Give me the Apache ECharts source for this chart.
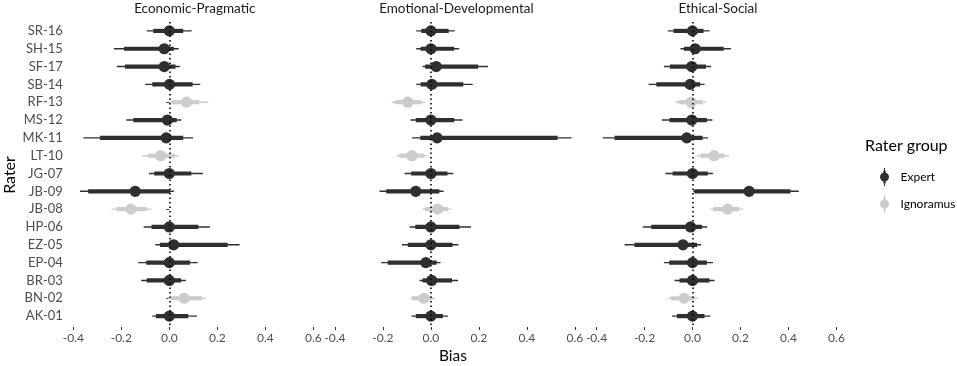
<!DOCTYPE html>
<html>
<head>
<meta charset="utf-8">
<script src="https://cdn.jsdelivr.net/npm/echarts@6/dist/echarts.min.js"></script>
<style>
  html, body { margin: 0; padding: 0; background: #fff; }
  #chart { width: 957px; height: 366px; }
</style>
</head>
<body>
<div id="chart"></div>
<script>
// raters, bottom to top
const raters = ["AK-01", "BN-02", "BR-03", "EP-04", "EZ-05", "HP-06", "JB-08", "JB-09", "JG-07",
    "LT-10", "MK-11", "MS-12", "RF-13", "SB-14", "SF-17", "SH-15", "SR-16"]
const groups = ["Expert", "Ignoramus", "Expert", "Expert", "Expert", "Expert", "Ignoramus", "Expert", "Expert",
    "Ignoramus", "Expert", "Expert", "Ignoramus", "Expert", "Expert", "Expert", "Expert"]
const panels = ["Economic-Pragmatic", "Emotional-Developmental", "Ethical-Social"]
const xTicks = [-0.4, -0.2, 0, 0.2, 0.4, 0.6]

// [estimate, inner lo, inner hi, outer lo, outer hi]
const economic = [
    [0, -0.056, 0.079, -0.071, 0.115],
    [0.062, 0.006, 0.136, -0.004, 0.151],
    [0, -0.094, 0.049, -0.117, 0.069],
    [0, -0.096, 0.086, -0.129, 0.118],
    [0.018, -0.039, 0.243, -0.058, 0.293],
    [0, -0.074, 0.121, -0.107, 0.169],
    [-0.16, -0.22, -0.094, -0.24, -0.074],
    [-0.142, -0.338, 0.003, -0.372, 0.019],
    [0, -0.063, 0.092, -0.085, 0.14],
    [-0.036, -0.088, 0.024, -0.113, 0.04],
    [-0.013, -0.289, 0.058, -0.358, 0.099],
    [-0.008, -0.15, 0.031, -0.179, 0.05],
    [0.072, 0.01, 0.125, 0.006, 0.163],
    [0.001, -0.071, 0.097, -0.1, 0.129],
    [-0.021, -0.185, 0.026, -0.219, 0.044],
    [-0.021, -0.189, 0.019, -0.231, 0.039],
    [0, -0.067, 0.058, -0.094, 0.093]
]
const emotional = [
    [0, -0.063, 0.05, -0.081, 0.071],
    [-0.029, -0.079, 0.004, -0.086, 0.018],
    [0.003, -0.035, 0.088, -0.047, 0.113],
    [-0.021, -0.18, 0.024, -0.207, 0.04],
    [0, -0.096, 0.09, -0.121, 0.115],
    [0, -0.065, 0.119, -0.089, 0.167],
    [0.028, -0.024, 0.071, -0.035, 0.085],
    [-0.063, -0.186, 0.035, -0.214, 0.053],
    [0, -0.082, 0.069, -0.11, 0.093],
    [-0.079, -0.132, -0.028, -0.142, -0.015],
    [0.026, -0.044, 0.528, -0.078, 0.586],
    [0, -0.063, 0.097, -0.085, 0.132],
    [-0.096, -0.149, -0.04, -0.163, -0.026],
    [0.004, -0.043, 0.135, -0.061, 0.174],
    [0.022, -0.024, 0.197, -0.035, 0.238],
    [0, -0.043, 0.097, -0.061, 0.118],
    [0, -0.04, 0.074, -0.061, 0.099]
]
const ethical = [
    [0, -0.065, 0.05, -0.085, 0.074],
    [-0.035, -0.089, 0.008, -0.101, 0.022],
    [0, -0.054, 0.071, -0.075, 0.092],
    [0, -0.097, 0.06, -0.119, 0.085],
    [-0.04, -0.242, 0.019, -0.283, 0.036],
    [-0.008, -0.172, 0.039, -0.207, 0.061],
    [0.146, 0.086, 0.194, 0.074, 0.211],
    [0.236, 0.008, 0.408, 0.003, 0.443],
    [0, -0.083, 0.064, -0.113, 0.085],
    [0.09, 0.032, 0.133, 0.018, 0.153],
    [-0.024, -0.325, 0.042, -0.374, 0.064],
    [-0.003, -0.096, 0.06, -0.128, 0.083],
    [-0.006, -0.058, 0.042, -0.072, 0.056],
    [-0.01, -0.151, 0.032, -0.183, 0.05],
    [-0.003, -0.094, 0.056, -0.119, 0.078],
    [0.011, -0.036, 0.13, -0.05, 0.16],
    [0, -0.079, 0.046, -0.103, 0.071]
]
const panelData = [economic, emotional, ethical]

const colors = { Expert: "#2f2f2f", Ignoramus: "#cccccc" }
const font = "Lato"
const zeros = [169.3, 430.9, 692.5]   // pixel of x = 0 in each panel
const pxPerUnit = 240

const chart = echarts.init(document.getElementById("chart"), null, { renderer: "canvas" })

function renderRange(params, api) {
    let y = api.coord([0, api.value(0)])[1]
    let x = v => api.coord([api.value(v), 0])[0]
    let color = api.visual("color")
    return {
        type: "group",
        children: [
            { type: "line", shape: { x1: x(4), y1: y, x2: x(5), y2: y }, style: { stroke: color, lineWidth: 1.4 } },
            { type: "line", shape: { x1: x(2), y1: y, x2: x(3), y2: y }, style: { stroke: color, lineWidth: 4.2 } },
            { type: "circle", shape: { cx: x(1), cy: y, r: 5.6 }, style: { fill: color } }
        ]
    }
}

let grids = [], xAxes = [], yAxes = [], series = [], graphics = []
panels.forEach((name, i) => {
    grids.push({ left: zeros[i] - 0.4 * pxPerUnit, width: pxPerUnit, top: 22, height: 303 })
    xAxes.push({
        type: "value", gridIndex: i, min: xTicks[0], max: xTicks[xTicks.length - 1], interval: 0.2, offset: 2,
        axisLine: { show: false }, splitLine: { show: false },
        axisTick: { show: true, length: 3, lineStyle: { color: "#333", width: 1 } },
        axisLabel: { fontFamily: font, fontSize: 12, color: "#4d4d4d", margin: 5,
            formatter: v => v.toFixed(1) }
    })
    yAxes.push({
        type: "category", gridIndex: i, data: raters, offset: 5.5,
        axisLine: { show: false }, splitLine: { show: false },
        axisTick: { show: i === 0, length: 3, alignWithLabel: true, lineStyle: { color: "#333" } },
        axisLabel: { show: i === 0, fontFamily: font, fontSize: 13, color: "#4d4d4d", margin: 5 }
    })
    ;["Expert", "Ignoramus"].forEach(g => {
        let rows = []
        panelData[i].forEach((r, k) => {
            if (groups[k] === g) rows.push([k].concat(r))
        })
        series.push({
            type: "custom", name: g, xAxisIndex: i, yAxisIndex: i,
            renderItem: renderRange, data: rows, clip: false,
            itemStyle: { color: colors[g] },
            encode: { x: [1, 2, 3, 4, 5], y: 0 },
            z: 2
        })
    })
    series.push({
        type: "line", xAxisIndex: i, yAxisIndex: i, data: [], silent: true, z: 5,
        markLine: {
            silent: true, symbol: "none", label: { show: false }, animation: false,
            lineStyle: { color: "#000", type: [1.5, 3], width: 1.6 },
            data: [{ xAxis: 0 }]
        }
    })
    graphics.push({
        type: "text", x: zeros[i] + 25.5, y: 9,
        style: { text: name, font: "13.5px " + font, fill: "#1a1a1a", textAlign: "center", textVerticalAlign: "middle" }
    })
})

graphics.push({
    type: "text", x: 453, y: 356,
    style: { text: "Bias", font: "15.5px " + font, fill: "#000", textAlign: "center", textVerticalAlign: "middle" }
})
graphics.push({
    type: "text", x: 10, y: 175, rotation: Math.PI / 2,
    style: { text: "Rater", font: "16px " + font, fill: "#000", textAlign: "center", textVerticalAlign: "middle" }
})
graphics.push({
    type: "text", x: 865, y: 146,
    style: { text: "Rater group", font: "16px " + font, fill: "#000", textAlign: "left", textVerticalAlign: "middle" }
})

const keyIcon = "path://M4.4,0 H5.6 V20 H4.4 Z M3.6,3 H6.4 V17 H3.6 Z M0,10 A5,5 0 1,1 10,10 A5,5 0 1,1 0,10 Z"

chart.setOption({
    animation: false,
    backgroundColor: "#fff",
    grid: grids,
    xAxis: xAxes,
    yAxis: yAxes,
    legend: {
        data: [{ name: "Expert", icon: keyIcon }, { name: "Ignoramus", icon: keyIcon }],
        orient: "vertical", left: 875, top: 163, itemWidth: 10, itemHeight: 18, itemGap: 9,
        textStyle: { fontFamily: font, fontSize: 12, color: "#000", padding: [0, 0, 0, 6] },
        selectedMode: false
    },
    graphic: graphics,
    series: series
})
</script>
</body>
</html>
